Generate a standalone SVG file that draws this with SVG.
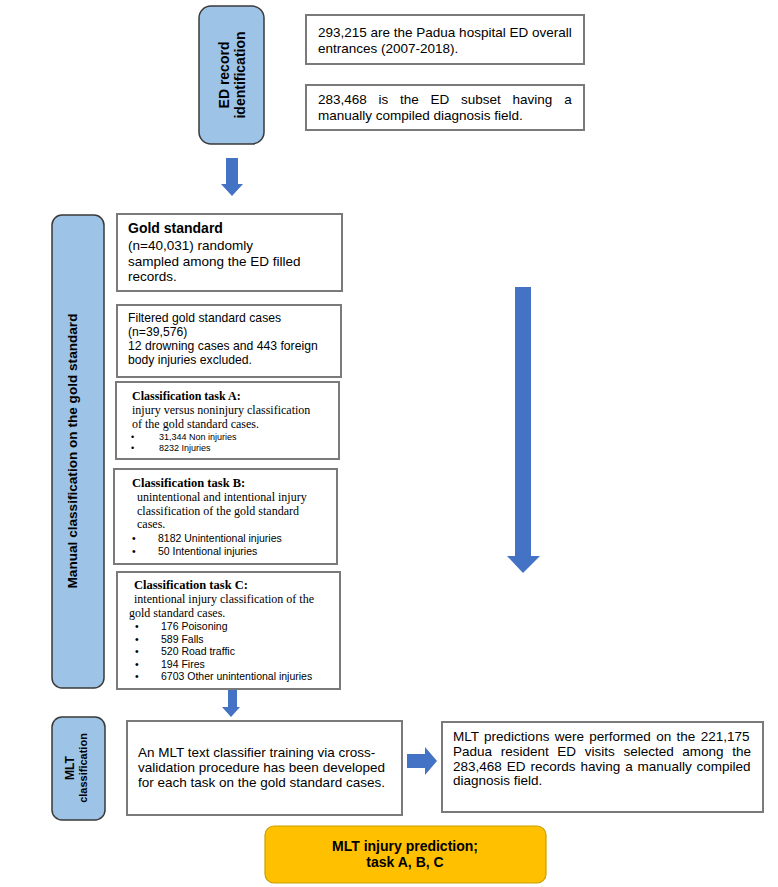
<svg xmlns="http://www.w3.org/2000/svg" width="778" height="887" viewBox="0 0 778 887">
<style>
.bg{fill:#ffffff}
.phase{fill:#9dc3e6;stroke:#3a3a3a;stroke-width:1.5}
.box{fill:#ffffff;stroke:#7a7a7a;stroke-width:2}
.out{fill:#ffc000;stroke:#c9a000;stroke-width:1.2}
.arr{fill:#4472c4}
.t{font-family:"Liberation Sans",Arial,sans-serif;fill:#000}
.s{font-family:"Liberation Serif","Times New Roman",serif;fill:#000}
.b{font-weight:bold}
</style>
<rect class="bg" x="0" y="0" width="778" height="887"/>

<g id="connectors">
<polygon class="arr" points="226,158 238,158 238,184 243,184 232,196 221,184 226,184"/>
<polygon class="arr" points="515,287 531,287 531,556 540,556 523,573 507,556 515,556"/>
<polygon class="arr" points="228,688 237,688 237,707 240,707 231,717 222,707 228,707"/>
<polygon class="arr" points="407,754 425,754 425,747 437,761 425,775 425,768 407,768"/>
</g>

<g id="ed-record">
<rect class="phase" x="199" y="6" width="65" height="138" rx="12"/>
<text class="t b" font-size="14" text-anchor="middle" transform="translate(232,75) rotate(-90)"><tspan x="0" y="-3">ED record</tspan><tspan x="0" y="13">identification</tspan></text>
</g>

<g id="overall">
<rect class="box" x="306" y="15" width="278" height="49"/>
<text class="t" font-size="13.5"><tspan x="318" y="37">293,215 are the Padua hospital ED overall</tspan><tspan x="318" y="53">entrances (2007-2018).</tspan></text>
</g>

<g id="subset">
<rect class="box" x="306" y="85" width="278" height="45"/>
<text class="t" font-size="13.5"><tspan x="318" y="104" word-spacing="8">283,468 is the ED subset having a</tspan><tspan x="318" y="120">manually compiled diagnosis field.</tspan></text>
</g>

<g id="manual">
<rect class="phase" x="52" y="215" width="52" height="473" rx="10"/>
<text class="t b" font-size="13.6" text-anchor="middle" transform="translate(77,451) rotate(-90)">Manual classification on the gold standard</text>
</g>

<g id="gold">
<rect class="box" x="117" y="214" width="225" height="77"/>
<text class="t" font-size="13.5"><tspan x="128" y="233" font-weight="bold" font-size="14">Gold standard</tspan><tspan x="128" y="250">(n=40,031) randomly</tspan><tspan x="128" y="266">sampled among the ED filled</tspan><tspan x="128" y="281">records.</tspan></text>
</g>

<g id="filtered">
<rect class="box" x="117" y="305" width="224" height="72"/>
<text class="t" font-size="12.2"><tspan x="128" y="322">Filtered gold standard cases</tspan><tspan x="128" y="336">(n=39,576)</tspan><tspan x="128" y="350">12 drowning cases and 443 foreign</tspan><tspan x="128" y="364">body injuries excluded.</tspan></text>
</g>

<g id="taskA">
<rect class="box" x="116" y="382" width="223" height="77"/>
<text class="s b" font-size="12" x="132" y="400">Classification task A:</text>
<text class="s" font-size="12"><tspan x="132" y="414">injury versus noninjury classification</tspan><tspan x="132" y="428">of the gold standard cases.</tspan></text>
<text class="t" font-size="9"><tspan x="131" y="440">•</tspan><tspan x="159" y="440">31,344 Non injuries</tspan><tspan x="131" y="451">•</tspan><tspan x="159" y="451">8232 Injuries</tspan></text>
</g>

<g id="taskB">
<rect class="box" x="114" y="469" width="223" height="95"/>
<text class="s b" font-size="12.5" x="132" y="487">Classification task B:</text>
<text class="s" font-size="12"><tspan x="137" y="501">unintentional and intentional injury</tspan><tspan x="137" y="515">classification of the gold standard</tspan><tspan x="137" y="528">cases.</tspan></text>
<text class="t" font-size="10.5"><tspan x="132" y="542">•</tspan><tspan x="158" y="542">8182 Unintentional injuries</tspan><tspan x="132" y="555">•</tspan><tspan x="158" y="555">50 Intentional injuries</tspan></text>
</g>

<g id="taskC">
<rect class="box" x="117" y="572" width="223" height="117"/>
<text class="s b" font-size="12.5" x="134" y="589">Classification task C:</text>
<text class="s" font-size="12"><tspan x="134" y="603">intentional injury classification of the</tspan><tspan x="129" y="617">gold standard cases.</tspan></text>
<text class="t" font-size="10.5"><tspan x="135" y="630">•</tspan><tspan x="161" y="630">176 Poisoning</tspan><tspan x="135" y="643">•</tspan><tspan x="161" y="643">589 Falls</tspan><tspan x="135" y="655">•</tspan><tspan x="161" y="655">520 Road traffic</tspan><tspan x="135" y="668">•</tspan><tspan x="161" y="668">194 Fires</tspan><tspan x="135" y="680">•</tspan><tspan x="161" y="680">6703 Other unintentional injuries</tspan></text>
</g>

<g id="mlt-class">
<rect class="phase" x="52" y="717" width="53" height="103" rx="10"/>
<text class="t b" text-anchor="middle" transform="translate(78,768) rotate(-90)"><tspan x="0" y="-4" font-size="12">MLT</tspan><tspan x="0" y="9" font-size="11">classification</tspan></text>
</g>

<g id="training">
<rect class="box" x="127" y="721" width="275" height="94"/>
<text class="t" font-size="13.5"><tspan x="138" y="757">An MLT text classifier training via cross-</tspan><tspan x="138" y="772">validation procedure has been developed</tspan><tspan x="138" y="787">for each task on the gold standard cases.</tspan></text>
</g>

<g id="predictions">
<rect class="box" x="442" y="722" width="321" height="90"/>
<text class="t" font-size="13.5"><tspan x="453" y="741" word-spacing="1.6">MLT predictions were performed on the 221,175</tspan><tspan x="453" y="756" word-spacing="4.9">Padua resident ED visits selected among the</tspan><tspan x="453" y="771" word-spacing="1.2">283,468 ED records having a manually compiled</tspan><tspan x="453" y="785">diagnosis field.</tspan></text>
</g>

<g id="outcome">
<rect class="out" x="265" y="826" width="281" height="57" rx="9"/>
<text class="t b" font-size="14" text-anchor="middle"><tspan x="405" y="851">MLT injury prediction;</tspan><tspan x="405" y="867">task A, B, C</tspan></text>
</g>
</svg>
